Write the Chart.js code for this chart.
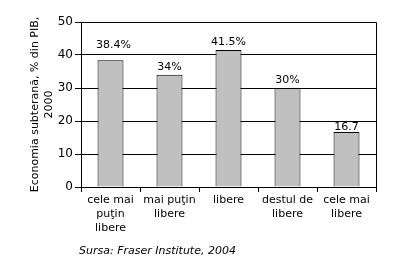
<!DOCTYPE html>
<html>
<head>
<meta charset="utf-8">
<script src="https://cdn.jsdelivr.net/npm/chart.js@4"></script>
<style>
  html, body { margin: 0; padding: 0; background: #fff; }
  #wrap { width: 411px; height: 268px; }
</style>
</head>
<body>
<div id="wrap"><canvas id="chart" width="411" height="268"></canvas></div>
<script>
// categories (multi-line labels)
const categories = [
    ['cele mai', 'puţin', 'libere'],
    ['mai puţin', 'libere'],
    ['libere'],
    ['destul de', 'libere'],
    ['cele mai', 'libere']
];
const values = [38.4, 34, 41.5, 30, 16.7];
const valueLabels = ['38.4%', '34%', '41.5%', '30%', '16.7'];
const yTicks = [0, 10, 20, 30, 40, 50];

const FONT = 'DejaVu Sans, Verdana, sans-serif';

// draws value labels above the bars, the plot frame and the source note
const extras = {
    id: 'extras',
    afterDatasetsDraw(chart, args, opts) {
        const ctx = chart.ctx;
        const meta = chart.getDatasetMeta(0);
        ctx.save();
        ctx.font = '11px ' + FONT;
        ctx.fillStyle = '#000';
        ctx.textAlign = 'center';
        ctx.textBaseline = 'middle';
        meta.data.forEach((bar, i) => {
            ctx.fillText(valueLabels[i], bar.x + (opts.dx[i] || 0), bar.y - opts.gap[i]);
        });

        // frame: top and right edges
        const a = chart.chartArea;
        ctx.strokeStyle = '#000';
        ctx.lineWidth = 1;
        ctx.beginPath();
        ctx.moveTo(Math.round(a.left) + 0.5, Math.round(a.top) + 0.5);
        ctx.lineTo(Math.round(a.right) + 0.5, Math.round(a.top) + 0.5);
        ctx.lineTo(Math.round(a.right) + 0.5, Math.round(a.bottom) + 0.5);
        ctx.stroke();

        ctx.font = 'italic 11px ' + FONT;
        ctx.textAlign = 'left';
        ctx.fillText('Sursa: Fraser Institute, 2004', 79, 251);
        ctx.restore();
    }
};

new Chart(document.getElementById('chart'), {
    type: 'bar',
    data: {
        labels: categories,
        datasets: [{
            data: values,
            backgroundColor: '#c0c0c0',
            borderColor: '#000',
            borderWidth: 1,
            categoryPercentage: 1,
            barPercentage: 0.44
        }]
    },
    options: {
        responsive: false,
        animation: false,
        events: [],
        layout: { padding: { top: 22, right: 35, left: 29, bottom: 0 } },
        plugins: {
            legend: { display: false },
            tooltip: { enabled: false },
            extras: { gap: [15, 8, 8, 8, 5], dx: [3, 0, 0, 0, 0] }
        },
        scales: {
            x: {
                grid: {
                    offset: true,
                    drawOnChartArea: false,
                    color: '#000',
                    tickLength: 5
                },
                border: { color: '#000' },
                ticks: {
                    color: '#000',
                    font: { family: FONT, size: 11, lineHeight: 1.27 },
                    maxRotation: 0,
                    autoSkip: false,
                    padding: 1
                },
                afterFit(scale) { scale.height = 81; }
            },
            y: {
                min: 0,
                max: 50,
                afterBuildTicks(scale) { scale.ticks = yTicks.map(v => ({ value: v })); },
                grid: { color: '#000', tickLength: 6 },
                border: { color: '#000' },
                ticks: {
                    color: '#000',
                    font: { family: FONT, size: 12 },
                    padding: 2
                },
                title: {
                    display: true,
                    text: ['Economia subterană, % din PIB,', '2000'],
                    color: '#000',
                    font: { family: FONT, size: 11 },
                    padding: { top: 0, bottom: 2 }
                },
                afterFit(scale) { scale.width = 52; }
            }
        }
    },
    plugins: [extras]
});
</script>
</body>
</html>
